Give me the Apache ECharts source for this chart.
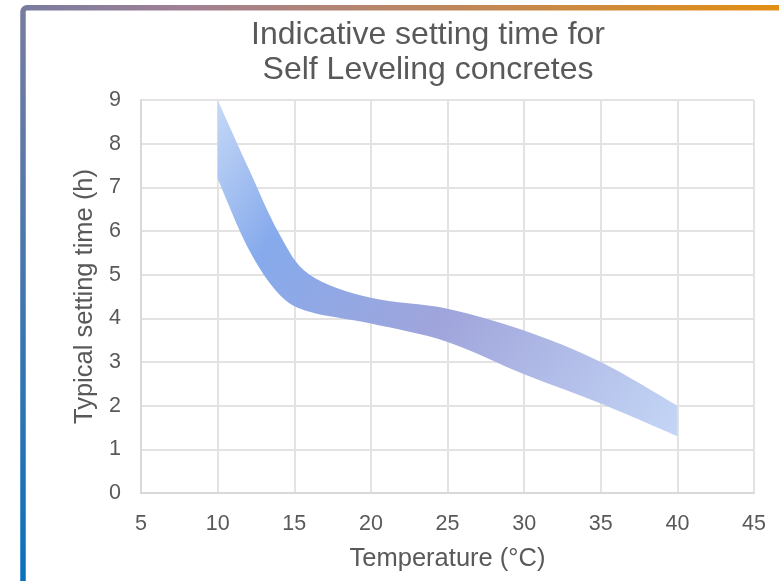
<!DOCTYPE html>
<html>
<head>
<meta charset="utf-8">
<script src="https://cdn.jsdelivr.net/npm/echarts@6/dist/echarts.min.js"></script>
<style>
html,body{margin:0;padding:0;background:#fff;}
#chart{width:779px;height:581px;}
</style>
</head>
<body>
<div id="chart"></div>
<script>
// ---- data ----
const titleLines = ['Indicative setting time for', 'Self Leveling concretes'];
const xAxisName = 'Temperature (°C)';
const yAxisName = 'Typical setting time (h)';
const xTicks = [5, 10, 15, 20, 25, 30, 35, 40, 45];
const yTicks = [0, 1, 2, 3, 4, 5, 6, 7, 8, 9];
// upper boundary of the band
const upperX = [10, 12, 14, 16, 20, 25, 30, 35, 40];
const upperY = [9.0, 7.45, 5.95, 5.0, 4.47, 4.22, 3.72, 3.0, 2.0];
// lower boundary of the band
const lowerX = [10, 12, 14, 16, 20, 25, 30, 35, 40];
const lowerY = [7.2, 5.6, 4.56, 4.15, 3.88, 3.46, 2.72, 2.05, 1.3];

const chart = echarts.init(document.getElementById('chart'), null, {renderer: 'canvas'});

function catmullPath(pts, start) {
  let d = (start ? 'M' : 'L') + pts[0][0] + ' ' + pts[0][1];
  for (let i = 0; i < pts.length - 1; i++) {
    const p0 = pts[i - 1] || pts[i];
    const p1 = pts[i];
    const p2 = pts[i + 1];
    const p3 = pts[i + 2] || pts[i + 1];
    const c1x = p1[0] + (p2[0] - p0[0]) / 6;
    const c1y = p1[1] + (p2[1] - p0[1]) / 6;
    const c2x = p2[0] - (p3[0] - p1[0]) / 6;
    const c2y = p2[1] - (p3[1] - p1[1]) / 6;
    d += ' C' + c1x + ' ' + c1y + ' ' + c2x + ' ' + c2y + ' ' + p2[0] + ' ' + p2[1];
  }
  return d;
}

const textColor = '#595959';
const gridColor = '#e3e3e3';
const font = 'Liberation Sans, Arial, sans-serif';

const option = {
  backgroundColor: '#ffffff',
  animation: false,
  title: {
    text: titleLines.join('\n'),
    left: 423,
    top: 13,
    textAlign: 'center',
    textStyle: {
      fontFamily: font,
      fontSize: 32,
      fontWeight: 'normal',
      color: textColor,
      lineHeight: 35
    }
  },
  grid: {left: 141, right: 25, top: 100, bottom: 88, outerBoundsMode: 'none', containLabel: false},
  xAxis: {
    type: 'value',
    min: xTicks[0],
    max: xTicks[xTicks.length - 1],
    interval: 5,
    name: xAxisName,
    nameLocation: 'middle',
    nameGap: 53,
    nameTextStyle: {fontFamily: font, fontSize: 25.5, color: textColor},
    axisLine: {show: true, lineStyle: {color: '#d9d9d9', width: 2}},
    axisTick: {show: false},
    axisLabel: {fontFamily: font, fontSize: 21.5, color: textColor, margin: 20},
    splitLine: {show: true, lineStyle: {color: gridColor, width: 2}}
  },
  yAxis: {
    type: 'value',
    min: yTicks[0],
    max: yTicks[yTicks.length - 1],
    interval: 1,
    name: yAxisName,
    nameLocation: 'middle',
    nameGap: 43,
    nameTextStyle: {fontFamily: font, fontSize: 25.5, color: textColor},
    axisLine: {show: true, lineStyle: {color: '#d9d9d9', width: 2}},
    axisTick: {show: false},
    axisLabel: {fontFamily: font, fontSize: 21.5, color: textColor, margin: 20},
    splitLine: {show: true, lineStyle: {color: gridColor, width: 2}}
  },
  graphic: [{
    type: 'rect',
    z: 100,
    silent: true,
    shape: {x: 23, y: 7.8, width: 800, height: 620, r: 4},
    style: {
      fill: 'none',
      lineWidth: 5.5,
      stroke: new echarts.graphic.LinearGradient(0, 1, 1, 0, [
        {offset: 0, color: '#0070c0'},
        {offset: 0.5, color: '#a08094'},
        {offset: 1, color: '#e8900a'}
      ])
    }
  }],
  series: [{
    type: 'custom',
    coordinateSystem: 'cartesian2d',
    data: [[upperX[0], upperY[0]]],
    encode: {x: 0, y: 1},
    clip: true,
    renderItem: function (params, api) {
      const up = upperX.map((x, i) => api.coord([x, upperY[i]]));
      const lo = lowerX.map((x, i) => api.coord([x, lowerY[i]])).reverse();
      const d = catmullPath(up, true) + ' ' + catmullPath(lo, false) + ' Z';
      const all = up.concat(lo);
      const xs = all.map(p => p[0]);
      const ys = all.map(p => p[1]);
      const minX = Math.min.apply(null, xs), maxX = Math.max.apply(null, xs);
      const minY = Math.min.apply(null, ys), maxY = Math.max.apply(null, ys);
      return {
        type: 'path',
        shape: {pathData: d},
        style: {
          fill: new echarts.graphic.LinearGradient(minX, minY, maxX, maxY, [
            {offset: 0, color: '#c6d9f6'},
            {offset: 0.22, color: '#86aaec'},
            {offset: 0.55, color: '#a0a5db'},
            {offset: 1, color: '#c4d6f6'}
          ], true),
          stroke: null
        }
      };
    }
  }]
};
chart.setOption(option);
</script>
</body>
</html>
